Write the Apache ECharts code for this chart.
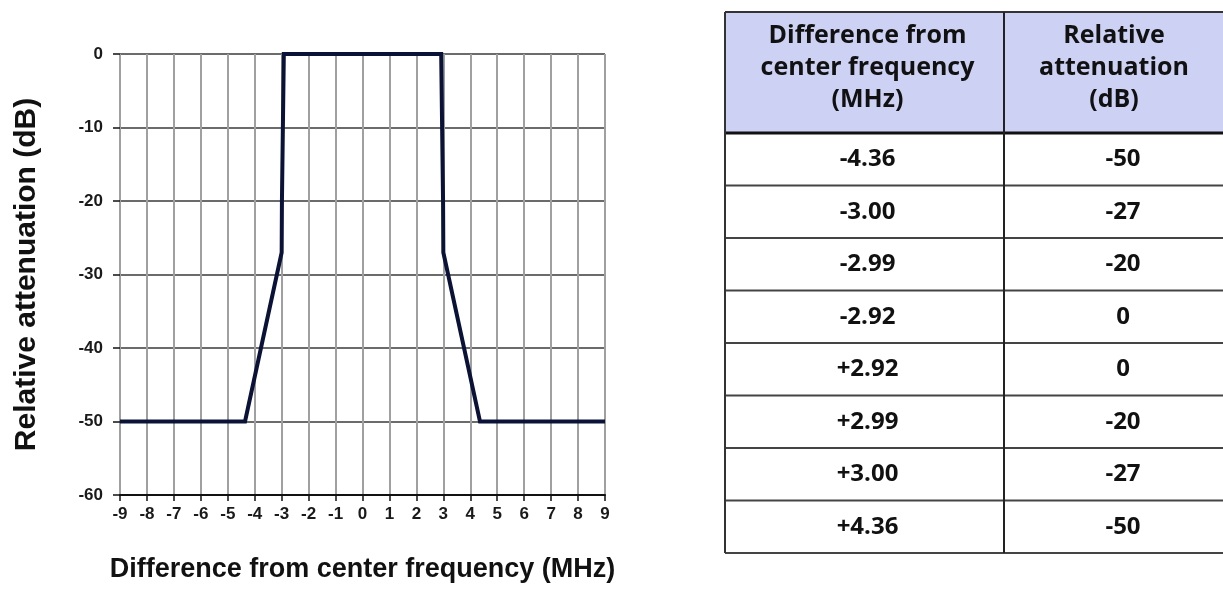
<!DOCTYPE html>
<html>
<head>
<meta charset="utf-8">
<script src="https://cdn.jsdelivr.net/npm/echarts@6/dist/echarts.min.js"></script>
<style>
  html, body { margin: 0; padding: 0; background: #ffffff; }
  #chart { width: 1223px; height: 589px; }
</style>
</head>
<body>
<div id="chart"></div>
<script>
// ---- data ----
const freqMHz = [-9, -4.36, -3.00, -2.99, -2.92, 2.92, 2.99, 3.00, 4.36, 9];
const attenDb = [-50, -50, -27, -20, 0, 0, -20, -27, -50, -50];
const xTicks = [-9, -8, -7, -6, -5, -4, -3, -2, -1, 0, 1, 2, 3, 4, 5, 6, 7, 8, 9];
const yTicks = [-60, -50, -40, -30, -20, -10, 0];
const tableHeader = ['Difference from\ncenter frequency\n(MHz)', 'Relative\nattenuation\n(dB)'];
const tableFreq = ['-4.36', '-3.00', '-2.99', '-2.92', '+2.92', '+2.99', '+3.00', '+4.36'];
const tableAtten = ['-50', '-27', '-20', '0', '0', '-20', '-27', '-50'];

// ---- layout (table) ----
const T = { left: 725, top: 12, headH: 121, rowH: 52.5, col1: 279, col2: 228 };

const chart = echarts.init(document.getElementById('chart'), null, { renderer: 'canvas' });

const graphics = [];
const tableFont = '"Open Sans", "DejaVu Sans", sans-serif';
const totalW = T.col1 + T.col2;
// header background
graphics.push({
  type: 'rect', shape: { x: T.left, y: T.top, width: totalW, height: T.headH },
  style: { fill: '#cdd1f3' }, z: 1
});
// header texts
tableHeader.forEach((h, i) => {
  const cx = T.left + (i === 0 ? T.col1 / 2 + 3 : T.col1 + T.col2 / 2 - 4);
  graphics.push({
    type: 'text', x: cx, y: T.top + T.headH / 2 - 5, z: 3,
    style: { text: h, fill: '#111', font: 'bold 25px ' + tableFont, align: 'center', verticalAlign: 'middle', lineHeight: 32 }
  });
});
// row texts
tableFreq.forEach((f, i) => {
  const cy = T.top + T.headH + T.rowH * (i + 0.5);
  graphics.push({
    type: 'text', x: T.left + T.col1 / 2 + 3, y: cy, z: 3,
    style: { text: f, fill: '#111', font: 'bold 24px ' + tableFont, align: 'center', verticalAlign: 'middle' }
  });
  graphics.push({
    type: 'text', x: T.left + T.col1 + T.col2 / 2 + 5, y: cy, z: 3,
    style: { text: tableAtten[i], fill: '#111', font: 'bold 24px ' + tableFont, align: 'center', verticalAlign: 'middle' }
  });
});
// horizontal lines
const tableBottom = T.top + T.headH + T.rowH * tableFreq.length;
graphics.push({ type: 'line', z: 4, shape: { x1: T.left, y1: T.top, x2: T.left + totalW, y2: T.top }, style: { stroke: '#333', lineWidth: 2 } });
graphics.push({ type: 'line', z: 4, shape: { x1: T.left, y1: T.top + T.headH, x2: T.left + totalW, y2: T.top + T.headH }, style: { stroke: '#111', lineWidth: 3 } });
for (let i = 1; i <= tableFreq.length; i++) {
  const y = T.top + T.headH + T.rowH * i;
  graphics.push({ type: 'line', z: 4, shape: { x1: T.left, y1: y, x2: T.left + totalW, y2: y }, style: { stroke: '#444', lineWidth: 2 } });
}
// vertical lines
graphics.push({ type: 'line', z: 4, shape: { x1: T.left, y1: T.top, x2: T.left, y2: tableBottom }, style: { stroke: '#333', lineWidth: 2 } });
graphics.push({ type: 'line', z: 4, shape: { x1: T.left + T.col1, y1: T.top, x2: T.left + T.col1, y2: tableBottom }, style: { stroke: '#222', lineWidth: 2 } });
graphics.push({ type: 'line', z: 4, shape: { x1: T.left + totalW, y1: T.top, x2: T.left + totalW, y2: tableBottom }, style: { stroke: '#333', lineWidth: 2 } });

const axisFont = '"Liberation Sans", Arial, sans-serif';

const option = {
  backgroundColor: '#ffffff',
  animation: false,
  grid: { left: 120, right: 618, top: 54, bottom: 94, containLabel: false },
  xAxis: {
    type: 'value', min: xTicks[0], max: xTicks[xTicks.length - 1], interval: 1,
    name: 'Difference from center frequency (MHz)', nameLocation: 'middle', nameGap: 61,
    nameTextStyle: { fontFamily: axisFont, fontWeight: 'bold', fontSize: 27, color: '#111' },
    axisLine: { show: true, onZero: false, lineStyle: { color: '#111', width: 2 } },
    axisTick: { show: true, length: 6, lineStyle: { color: '#111', width: 1.5 } },
    axisLabel: { margin: 11, fontFamily: axisFont, fontWeight: 'bold', fontSize: 17, color: '#1a1a1a', formatter: v => String(v) },
    splitLine: { show: true, lineStyle: { color: '#a0a0a0', width: 2 } }
  },
  yAxis: {
    type: 'value', min: yTicks[0], max: yTicks[yTicks.length - 1], interval: 10,
    name: 'Relative attenuation (dB)', nameLocation: 'middle', nameGap: 78, nameRotate: 90,
    nameTextStyle: { fontFamily: axisFont, fontWeight: 'bold', fontSize: 30, color: '#111' },
    axisLine: { show: false, onZero: false },
    axisTick: { show: true, length: 7, lineStyle: { color: '#111', width: 1.5 } },
    axisLabel: { margin: 17, fontFamily: axisFont, fontWeight: 'bold', fontSize: 17, color: '#1a1a1a' },
    splitLine: { show: true, lineStyle: { color: '#3a3a3a', width: 1.6 } }
  },
  series: [{
    type: 'line',
    data: freqMHz.map((f, i) => [f, attenDb[i]]),
    showSymbol: false,
    lineStyle: { color: '#0b1238', width: 4, join: 'miter' },
    z: 5
  }],
  graphic: graphics
};
chart.setOption(option);
</script>
</body>
</html>
